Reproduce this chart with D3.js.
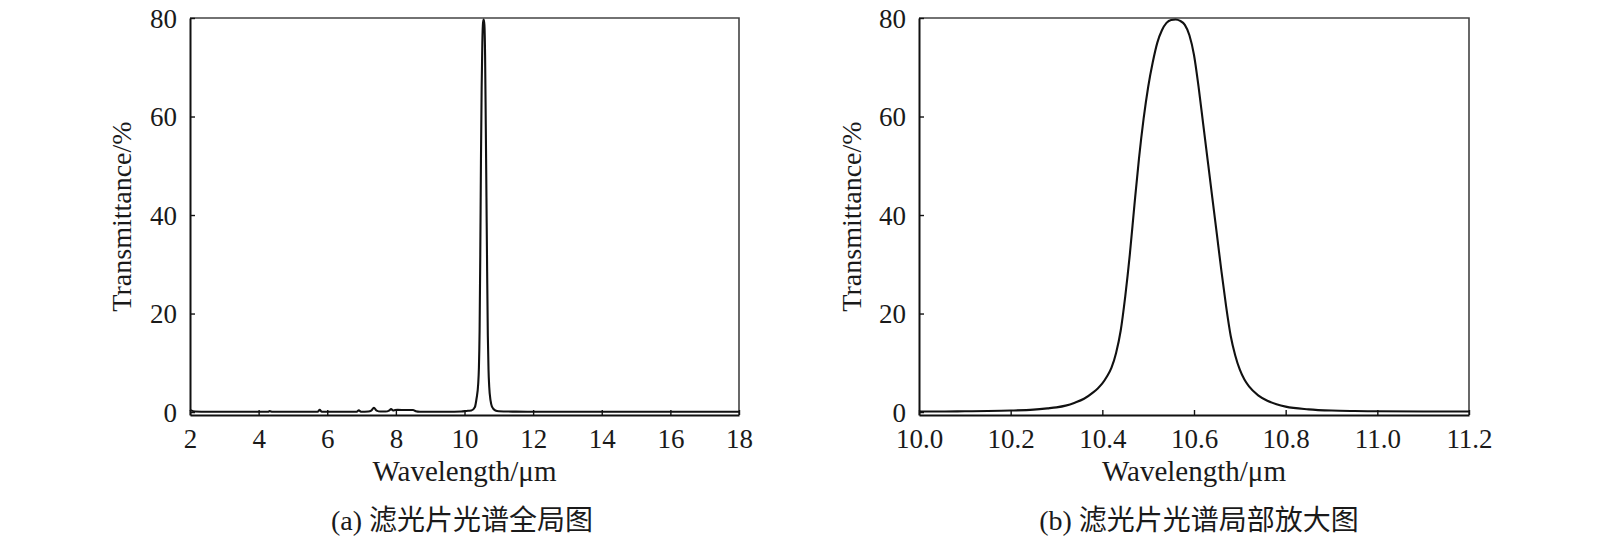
<!DOCTYPE html>
<html><head><meta charset="utf-8">
<script src="https://cdn.jsdelivr.net/npm/d3@7"></script>
<style>
html,body{margin:0;padding:0;background:#fff;}
svg text{font-family:"Liberation Serif","Noto Sans CJK SC",serif !important;fill:#1a1a1a;}
</style></head>
<body>
<svg id="c" width="1600" height="545"></svg>
<script>
// ---- data ----
const fullWavelength = [2.0,2.15,2.5,3.0,3.5,4.0,4.28,4.32,4.4,5.0,5.5,5.72,5.78,5.84,6.0,6.5,6.86,6.92,6.98,7.2,7.28,7.36,7.44,7.55,7.7,7.8,7.86,7.92,7.98,8.05,8.3,8.5,8.58,8.7,9.0,9.5,9.9,10.1,10.2,10.3,10.35,10.4,10.42,10.44,10.46,10.48,10.5,10.52,10.54,10.56,10.58,10.6,10.62,10.64,10.66,10.68,10.7,10.72,10.76,10.8,10.9,11.0,11.5,12.0,13.0,14.0,15.0,16.0,17.0,18.0];
const fullTransmittance = [0.45,0.1,0.05,0.05,0.05,0.05,0.05,0.2,0.05,0.05,0.05,0.05,0.45,0.05,0.05,0.05,0.05,0.35,0.05,0.1,0.3,0.85,0.3,0.1,0.1,0.3,0.6,0.3,0.4,0.45,0.4,0.4,0.15,0.05,0.05,0.05,0.1,0.25,0.3,0.95,2.7,5.8,9.0,16.5,32,51.5,66,75,79,79.7,78.6,72.5,58.5,43.5,28.5,15.5,8.6,5.2,2.3,1.1,0.3,0.15,0.08,0.05,0.05,0.05,0.05,0.05,0.05,0.05];

const zoomWavelength = [10.00,10.05,10.10,10.15,10.20,10.25,10.28,10.30,10.32,10.34,10.36,10.38,10.39,10.40,10.41,10.42,10.43,10.44,10.45,10.46,10.47,10.48,10.49,10.50,10.51,10.52,10.53,10.54,10.55,10.56,10.57,10.58,10.59,10.60,10.61,10.62,10.63,10.64,10.65,10.66,10.67,10.68,10.69,10.70,10.71,10.72,10.74,10.76,10.78,10.80,10.85,10.90,10.95,11.00,11.10,11.20];
const zoomTransmittance = [0.1,0.1,0.15,0.2,0.3,0.5,0.75,0.95,1.3,1.9,2.7,4.0,4.8,5.8,7.2,9.0,12.0,16.5,23.5,32,42,51.5,59.5,66,71,75,77.5,79,79.6,79.7,79.4,78.6,76.5,72.5,66,58.5,51,43.5,36,28.5,21.5,15.5,11.5,8.6,6.6,5.2,3.4,2.3,1.6,1.1,0.55,0.3,0.2,0.15,0.1,0.1];

const fullXTicks = [2,4,6,8,10,12,14,16,18];
const zoomXTicks = [10.0,10.2,10.4,10.6,10.8,11.0,11.2];
const yTicks = [0,20,40,60,80];

const xLabel = "Wavelength/\u03bcm";
const yLabel = "Transmittance/%";
const captionA = "(a) 滤光片光谱全局图";
const captionB = "(b) 滤光片光谱局部放大图";

// ---- drawing ----
const svg = d3.select("#c");

function panel(opts){
  const {x0,x1,y0,y1,domainX,xs,ys,ticksX,fmt,caption,ylabX} = opts;
  const g = svg.append("g");
  const x = d3.scaleLinear().domain(domainX).range([x0,x1]);
  const y = d3.scaleLinear().domain([-0.6,80]).range([y1,y0]);

  // frame (top/right)
  g.append("path").attr("d",`M${x0},${y0}H${x1}V${y1}`)
    .attr("fill","none").attr("stroke","#444").attr("stroke-width",1.6);

  // data line
  const pts = xs.map((v,i)=>[v,ys[i]]);
  g.append("path").datum(pts)
    .attr("d", d3.line().x(d=>x(d[0])).y(d=>y(d[1])).curve(d3.curveMonotoneX))
    .attr("fill","none").attr("stroke","#111").attr("stroke-width",2.1)
    .attr("stroke-linejoin","round");

  // x axis
  const xa = g.append("g").attr("transform",`translate(0,${y1})`)
    .call(d3.axisBottom(x).tickValues(ticksX).tickSizeInner(-5).tickSizeOuter(0).tickPadding(14).tickFormat(fmt));
  xa.attr("font-family",null);
  xa.select(".domain").attr("stroke","#111").attr("stroke-width",2);
  xa.selectAll(".tick line").attr("stroke","#111").attr("stroke-width",1.4);
  xa.selectAll("text").style("font-size","27px").attr("fill","#1a1a1a").attr("dy","0.72em");

  // y axis
  const ya = g.append("g").attr("transform",`translate(${x0},0)`)
    .call(d3.axisLeft(y).tickValues(yTicks).tickSizeInner(-5).tickSizeOuter(0).tickPadding(13));
  ya.attr("font-family",null);
  ya.select(".domain").attr("stroke","#111").attr("stroke-width",2);
  ya.selectAll(".tick line").attr("stroke","#111").attr("stroke-width",1.4);
  ya.selectAll("text").style("font-size","27px").attr("fill","#1a1a1a").attr("dy","0.34em");

  // labels
  g.append("text").attr("x",(x0+x1)/2).attr("y",481).attr("text-anchor","middle")
    .style("font-size","29px").text(xLabel);
  g.append("text").attr("transform",`translate(${ylabX},${(y0+y1)/2}) rotate(-90)`)
    .attr("text-anchor","middle").style("font-size","28px").text(yLabel);
  g.append("text").attr("x",opts.capX).attr("y",530).attr("text-anchor","middle")
    .style("font-size","28px").text(caption);
}

panel({x0:190,x1:739,y0:18,y1:415,domainX:[2,18],xs:fullWavelength,ys:fullTransmittance,
  ticksX:fullXTicks,fmt:d3.format("d"),caption:captionA,ylabX:131,capX:462});
panel({x0:919,x1:1469,y0:18,y1:415,domainX:[10,11.2],xs:zoomWavelength,ys:zoomTransmittance,
  ticksX:zoomXTicks,fmt:d3.format(".1f"),caption:captionB,ylabX:861,capX:1199});
</script>
</body></html>
